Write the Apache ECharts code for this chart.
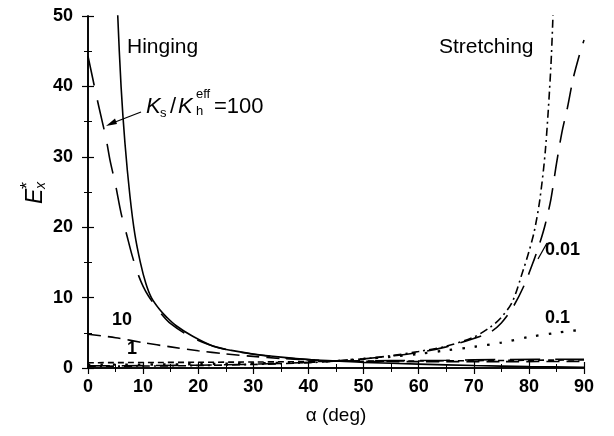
<!DOCTYPE html>
<html>
<head>
<meta charset="utf-8">
<script src="https://cdn.jsdelivr.net/npm/echarts@6/dist/echarts.min.js"></script>
<style>
  html, body { margin: 0; padding: 0; background: #fff; }
  #chart { width: 614px; height: 436px; }
</style>
</head>
<body>
<div id="chart"></div>
<script>
// values (alpha in deg, E*x)
const hingeAlpha = [5.2, 5.4, 6, 6.7, 7.6, 8.5, 9.5, 10.5, 11.5, 13, 14.3, 16, 19, 22.7, 26, 30, 35, 40, 45, 50, 60, 70, 80, 90]
const hingeE = [55, 50, 40, 32, 24.5, 19, 15, 12, 10, 8.3, 7.2, 6.0, 4.5, 3.1, 2.5, 2.0, 1.55, 1.2, 1.0, 0.8, 0.55, 0.35, 0.2, 0.1]

const stretchAlpha = [0, 10, 20, 30, 40, 45, 50, 55, 60, 65, 70, 73, 75, 77, 79, 80, 81, 82, 83, 84, 84.5]
const stretchE = [0.25, 0.28, 0.35, 0.5, 0.75, 1.0, 1.3, 1.75, 2.35, 3.1, 4.4, 5.8, 7.2, 9.4, 14, 16.5, 19.5, 24, 31, 43, 53]

const k100Alpha = [0, 1.3, 2, 3.3, 4, 5, 6, 7, 8, 9, 10, 11, 13, 15, 18.5, 22, 25, 30, 35, 40, 45, 55, 65, 75, 90]
const k100E = [44.3, 39.5, 37, 32.5, 29.5, 26, 22, 19, 16, 13.5, 11.6, 10.2, 8.0, 6.3, 4.5, 3.3, 2.65, 1.95, 1.5, 1.2, 1.0, 1.05, 1.1, 1.2, 1.25]

const k10Alpha = [0, 5, 10, 15, 20, 25, 30, 35, 40, 45, 60, 75, 90]
const k10E = [4.8, 4.3, 3.6, 3.0, 2.45, 2.0, 1.65, 1.35, 1.15, 1.0, 0.9, 0.9, 0.95]

const k1Alpha = [0, 30, 45, 60, 90]
const k1E = [0.75, 0.85, 0.95, 1.0, 1.15]

const k01Alpha = [0, 20, 35, 45, 50, 55, 60, 65, 70, 75, 80, 85, 88, 90]
const k01E = [0.45, 0.55, 0.75, 1.0, 1.3, 1.6, 2.0, 2.5, 3.0, 3.6, 4.4, 5.0, 5.3, 5.35]

const k001Alpha = [0, 20, 35, 45, 50, 55, 60, 65, 70, 73, 75, 77, 79, 81, 82, 83, 84, 85, 86, 87, 88, 89, 90]
const k001E = [0.3, 0.4, 0.65, 1.0, 1.3, 1.7, 2.2, 3.0, 4.2, 5.1, 6.4, 8.5, 11.5, 15.5, 17.8, 20.5, 24, 29, 33.5, 37, 41, 44, 46.6]

const xTicks = [0, 90, 10]
const yTicks = [0, 50, 10]

const pairs = (xs, ys) => xs.map((x, i) => [x, ys[i]])

const font = '"Liberation Sans", Arial, sans-serif'

function curve(name, xs, ys, dash, width) {
  return {
    name: name,
    type: 'line',
    data: pairs(xs, ys),
    showSymbol: false,
    smooth: 0.3,
    clip: true,
    silent: true,
    lineStyle: { color: '#000', width: width || 1.6, type: dash, cap: 'butt' }
  }
}

function axisCommon(showLabel) {
  return {
    type: 'value',
    axisLine: { show: true, lineStyle: { color: '#000', width: 1.6 } },
    axisTick: { show: true, inside: true, length: 6, lineStyle: { color: '#000', width: 1.2 } },
    minorTick: { show: true, splitNumber: 2, length: 4, lineStyle: { color: '#000', width: 1 } },
    splitLine: { show: false },
    axisLabel: {
      show: showLabel,
      color: '#000',
      fontFamily: font,
      fontWeight: 'bold',
      fontSize: 18
    }
  }
}

const chart = echarts.init(document.getElementById('chart'), null, { renderer: 'canvas' })

const xBottom = Object.assign(axisCommon(true), {
  position: 'bottom', min: xTicks[0], max: xTicks[1], interval: xTicks[2],
  name: 'α (deg)', nameLocation: 'middle', nameGap: 38,
  nameTextStyle: { color: '#000', fontFamily: font, fontSize: 19 }
})
xBottom.axisLabel.margin = 10
const xTop = Object.assign(axisCommon(false), {
  position: 'top', min: xTicks[0], max: xTicks[1], interval: xTicks[2]
})
const yLeft = Object.assign(axisCommon(true), {
  position: 'left', min: yTicks[0], max: yTicks[1], interval: yTicks[2]
})
yLeft.axisLabel.margin = 15
const yRight = Object.assign(axisCommon(false), {
  position: 'right', min: yTicks[0], max: yTicks[1], interval: yTicks[2]
})

const txt = (x, y, s, size, extra) => ({
  type: 'text', x: x, y: y, silent: true,
  style: Object.assign({ text: s, fill: '#000', font: `${size}px ${font}` }, extra || {})
})

chart.setOption({
  animation: false,
  backgroundColor: '#fff',
  grid: { left: 88, right: 30, top: 16, bottom: 68, containLabel: false },
  xAxis: [xBottom, xTop],
  yAxis: [yLeft, yRight],
  series: [
    curve('hinging', hingeAlpha, hingeE, 'solid'),
    curve('stretching', stretchAlpha, stretchE, [8, 4, 2, 4]),
    curve('100', k100Alpha, k100E, [30, 15]),
    curve('10', k10Alpha, k10E, [13, 7]),
    curve('1', k1Alpha, k1E, [6, 4]),
    curve('0.1', k01Alpha, k01E, [2.5, 10], 2.3),
    curve('0.01', k001Alpha, k001E, [22, 12])
  ],
  graphic: [
    txt(127, 37, 'Hinging', 21),
    txt(439, 37, 'Stretching', 21),
    // Ks / Kh^eff = 100
    txt(146, 96, 'K', 22, { font: `italic 22px ${font}` }),
    txt(160, 107, 's', 13),
    txt(170, 96, '/', 22),
    txt(178, 96, 'K', 22, { font: `italic 22px ${font}` }),
    txt(196, 105, 'h', 13),
    txt(196, 88, 'eff', 13),
    txt(214, 96, '=100', 22),
    { type: 'line', silent: true, shape: { x1: 141, y1: 112, x2: 110, y2: 124 },
      style: { stroke: '#000', lineWidth: 1.3 } },
    { type: 'polygon', silent: true, shape: { points: [[106, 126], [115, 118.5], [117, 124]] },
      style: { fill: '#000' } },
    // curve labels
    txt(112, 311, '10', 18, { font: `bold 18px ${font}` }),
    txt(127, 340, '1', 18, { font: `bold 18px ${font}` }),
    txt(545, 309, '0.1', 18, { font: `bold 18px ${font}` }),
    txt(545, 241, '0.01', 18, { font: `bold 18px ${font}` }),
    { type: 'line', silent: true, shape: { x1: 547, y1: 243, x2: 538, y2: 259 },
      style: { stroke: '#000', lineWidth: 1.2 } },
    // y axis name E*x, rotated
    {
      type: 'group', x: 24, y: 204, rotation: Math.PI / 2, silent: true,
      children: [
        txt(0, 0, 'E', 23, { font: `italic 23px ${font}` }),
        txt(15, -5, '*', 18),
        txt(15, 10, 'x', 14, { font: `italic 14px ${font}` })
      ]
    }
  ]
})
</script>
</body>
</html>
